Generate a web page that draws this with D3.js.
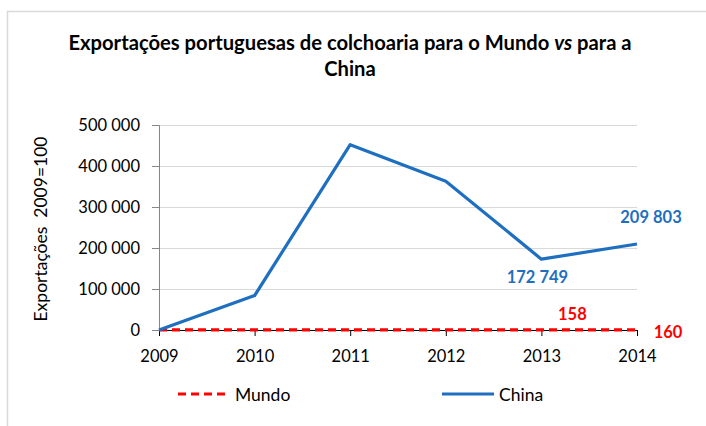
<!DOCTYPE html>
<html>
<head>
<meta charset="utf-8">
<script src="https://cdn.jsdelivr.net/npm/d3@7"></script>
<style>
  html, body { margin: 0; padding: 0; background: #fff; }
  svg { display: block; font-family: Lato, "Open Sans", sans-serif; }
</style>
</head>
<body>
<svg id="chart" width="706" height="426"></svg>
<script>
// Export index series (2009 = 100)
const years = [2009, 2010, 2011, 2012, 2013, 2014];
const mundo = [100, 112, 126, 141, 158, 160];
const china = [100, 84000, 452000, 363000, 172749, 209803];
const yTicks = [0, 100000, 200000, 300000, 400000, 500000];
const seriesNames = ["Mundo", "China"];

const blue = "#1f6fc0";
const red = "#ff0000";
const numSize = 16.5;
const textSize = 17.5;

const svg = d3.select("#chart");
const W = 706, H = 426;
const margin = { left: 159, right: 69, top: 125, bottom: 96 };

// chart frame (right and bottom edges run past the canvas)
svg.append("rect")
  .attr("x", 7.5).attr("y", 11.5)
  .attr("width", W + 10).attr("height", H)
  .attr("fill", "#fff").attr("stroke", "#d9d9d9").attr("stroke-width", 1.5);

const x = d3.scalePoint().domain(years).range([margin.left, W - margin.right]);
const y = d3.scaleLinear().domain([0, 500000]).range([H - margin.bottom, margin.top]);

const fmt = v => d3.format(",")(v).replace(/,/g, " ");

// gridlines
svg.append("g")
  .selectAll("line")
  .data(yTicks.filter(d => d > 0))
  .join("line")
  .attr("x1", margin.left).attr("x2", W - margin.right)
  .attr("y1", d => Math.round(y(d)) + 0.5).attr("y2", d => Math.round(y(d)) + 0.5)
  .attr("stroke", "#d9d9d9").attr("stroke-width", 1);

// y axis
const yAxis = svg.append("g")
  .attr("transform", `translate(${margin.left},0)`)
  .call(d3.axisLeft(y).tickValues(yTicks).tickSize(7).tickPadding(12).tickFormat(fmt));
yAxis.select(".domain").attr("stroke", "#868686");
yAxis.selectAll(".tick line").attr("stroke", "#868686");
yAxis.selectAll("text").attr("font-size", numSize).attr("fill", "#000")
  .attr("font-family", "Lato, sans-serif");

// x axis at zero
const xAxis = svg.append("g")
  .attr("transform", `translate(0,${y(0)})`)
  .call(d3.axisBottom(x).tickSize(6).tickSizeOuter(0));
xAxis.select(".domain").attr("stroke", "#000");
xAxis.selectAll(".tick line").attr("stroke", "#000");
xAxis.selectAll("text")
  .attr("y", 32).attr("dy", null)
  .attr("font-size", numSize).attr("fill", "#000")
  .attr("font-family", "Lato, sans-serif");

// y axis title
svg.append("text")
  .attr("transform", `translate(40,229) rotate(-90)`)
  .attr("text-anchor", "middle")
  .attr("dominant-baseline", "central")
  .attr("font-size", textSize)
  .attr("xml:space", "preserve")
  .text("Exportações  2009=100");

// lines
const line = d3.line().x((d, i) => x(years[i])).y(d => y(d));

svg.append("path")
  .datum(mundo)
  .attr("d", line)
  .attr("fill", "none")
  .attr("stroke", red).attr("stroke-width", 3.2)
  .attr("stroke-dasharray", "8,5");

svg.append("path")
  .datum(china)
  .attr("d", line)
  .attr("fill", "none")
  .attr("stroke", blue).attr("stroke-width", 3.2)
  .attr("stroke-linejoin", "round");

// data labels
const labels = [
  { v: china[4], i: 4, dx: -4, dy: 18, c: blue },
  { v: china[5], i: 5, dx: 14, dy: -27, c: blue },
  { v: mundo[4], i: 4, dx: 31, dy: -16, c: red },
  { v: mundo[5], i: 5, dx: 31, dy: 2, c: red }
];
svg.append("g")
  .selectAll("text")
  .data(labels)
  .join("text")
  .attr("x", d => x(years[d.i]) + d.dx)
  .attr("y", d => y(d.v) + d.dy)
  .attr("text-anchor", "middle")
  .attr("dominant-baseline", "central")
  .attr("font-size", numSize).attr("font-weight", "bold")
  .attr("fill", d => d.c)
  .text(d => fmt(d.v));

// title
const title = svg.append("text")
  .attr("text-anchor", "middle")
  .attr("font-size", 20.2).attr("font-weight", "bold");
const t1 = title.append("tspan").attr("x", 350).attr("y", 50);
t1.append("tspan").text("Exportações portuguesas de colchoaria para o Mundo ");
t1.append("tspan").attr("font-style", "italic").text("vs");
t1.append("tspan").text(" para a");
title.append("tspan").attr("x", 350).attr("y", 76).text("China");

// legend
const legend = svg.append("g");
const items = [
  { name: seriesNames[0], x0: 178, color: red, dash: "8,5" },
  { name: seriesNames[1], x0: 442, color: blue, dash: null }
];
items.forEach(it => {
  legend.append("line")
    .attr("x1", it.x0).attr("x2", it.x0 + 52)
    .attr("y1", 394).attr("y2", 394)
    .attr("stroke", it.color).attr("stroke-width", 3.2)
    .attr("stroke-dasharray", it.dash);
  legend.append("text")
    .attr("x", it.x0 + 57).attr("y", 394)
    .attr("dominant-baseline", "central")
    .attr("font-size", textSize)
    .text(it.name);
});
</script>
</body>
</html>
